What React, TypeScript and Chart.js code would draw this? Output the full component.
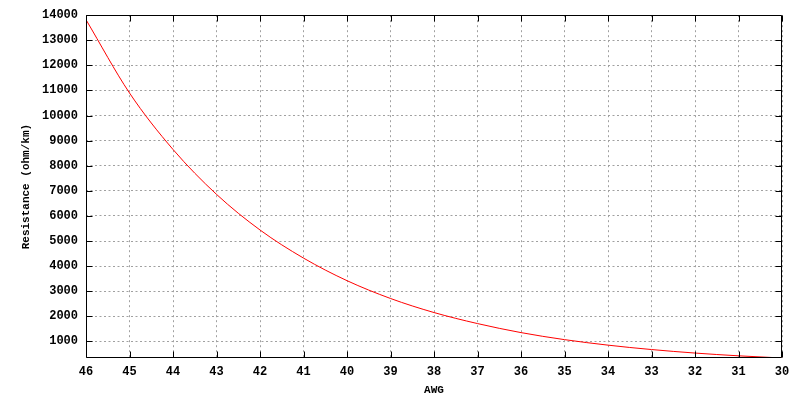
import React, { useEffect, useRef } from "react";
import { Chart, registerables } from "chart.js";

Chart.register(...registerables);

const awg = [46, 45, 44, 43, 42, 41, 40, 39, 38, 37, 36, 35, 34, 33, 32, 31, 30];
const resistance = [13820, 10900, 8650, 6860, 5440, 4320, 3420, 2710, 2150, 1710, 1350, 1070, 850, 675, 535, 425, 338];
const yTickValues = [1000, 2000, 3000, 4000, 5000, 6000, 7000, 8000, 9000, 10000, 11000, 12000, 13000, 14000];
const yMin = 338;
const yMax = 14000;
const xTitle = "AWG";
const yTitle = "Resistance (ohm/km)";

const FONT = "'Liberation Mono', 'DejaVu Sans Mono', monospace";

const framePlugin = {
  id: "frame",
  afterDraw(chart: any) {
    const { ctx, chartArea, scales } = chart;
    const L = Math.round(chartArea.left) + 0.5;
    const R = Math.round(chartArea.right) - 0.5;
    const T = Math.round(chartArea.top) + 0.5;
    const B = Math.round(chartArea.bottom) - 0.5;
    const tl = 6;
    ctx.save();
    ctx.strokeStyle = "#000";
    ctx.lineWidth = 1;
    ctx.setLineDash([]);
    ctx.beginPath();
    ctx.rect(L, T, R - L, B - T);
    for (const t of scales.x.ticks) {
      const px = Math.round(scales.x.getPixelForValue(t.value)) + 0.5;
      ctx.moveTo(px, B);
      ctx.lineTo(px, B - tl);
      ctx.moveTo(px, T);
      ctx.lineTo(px, T + tl);
    }
    for (const t of scales.y.ticks) {
      const py = Math.round(scales.y.getPixelForValue(t.value)) + 0.5;
      ctx.moveTo(L, py);
      ctx.lineTo(L + tl, py);
      ctx.moveTo(R, py);
      ctx.lineTo(R - tl, py);
    }
    ctx.stroke();
    ctx.restore();
  },
};

export default function App() {
  const ref = useRef<HTMLCanvasElement | null>(null);
  useEffect(() => {
    if (!ref.current) return;
    const chart = new Chart(ref.current, {
      type: "line",
      data: {
        datasets: [
          {
            data: awg.map((a, i) => ({ x: a, y: resistance[i] })),
            borderColor: "#ff0000",
            borderWidth: 1,
            pointRadius: 0,
            fill: false,
            cubicInterpolationMode: "monotone",
          },
        ],
      },
      options: {
        animation: false,
        responsive: true,
        maintainAspectRatio: false,
        layout: { padding: { top: 13, right: 18, left: 0, bottom: 0 } },
        plugins: { legend: { display: false }, tooltip: { enabled: false } },
        scales: {
          x: {
            type: "linear",
            reverse: true,
            min: 30,
            max: 46,
            afterFit(scale: any) {
              scale.height = 42;
            },
            ticks: {
              stepSize: 1,
              color: "#000",
              padding: 7,
              maxRotation: 0,
              autoSkip: false,
              font: { family: FONT, size: 12, weight: "bold" },
            },
            grid: { color: "#a0a0a0", lineWidth: 1, drawTicks: false },
            border: { display: false, dash: [2, 3] },
            title: {
              display: true,
              text: xTitle,
              color: "#000",
              padding: { top: 0, bottom: 3 },
              font: { family: FONT, size: 11, weight: "bold" },
            },
          },
          y: {
            type: "linear",
            min: yMin,
            max: yMax,
            afterFit(scale: any) {
              scale.width = 86;
            },
            afterBuildTicks(scale: any) {
              scale.ticks = yTickValues.map((v) => ({ value: v }));
            },
            ticks: {
              color: "#000",
              padding: 8,
              autoSkip: false,
              font: { family: FONT, size: 12, weight: "bold" },
              callback: (v: any) => String(v),
            },
            grid: { color: "#a0a0a0", lineWidth: 1, drawTicks: false },
            border: { display: false, dash: [2, 2.5] },
            title: {
              display: true,
              text: yTitle,
              color: "#000",
              padding: { top: 20, bottom: 0 },
              font: { family: FONT, size: 11, weight: "bold" },
            },
          },
        },
      },
      plugins: [framePlugin],
    } as any);
    return () => chart.destroy();
  }, []);
  return (
    <div style={{ position: "fixed", left: 0, top: 0, width: 800, height: 400, background: "#fff" }}>
      <canvas ref={ref} />
    </div>
  );
}
